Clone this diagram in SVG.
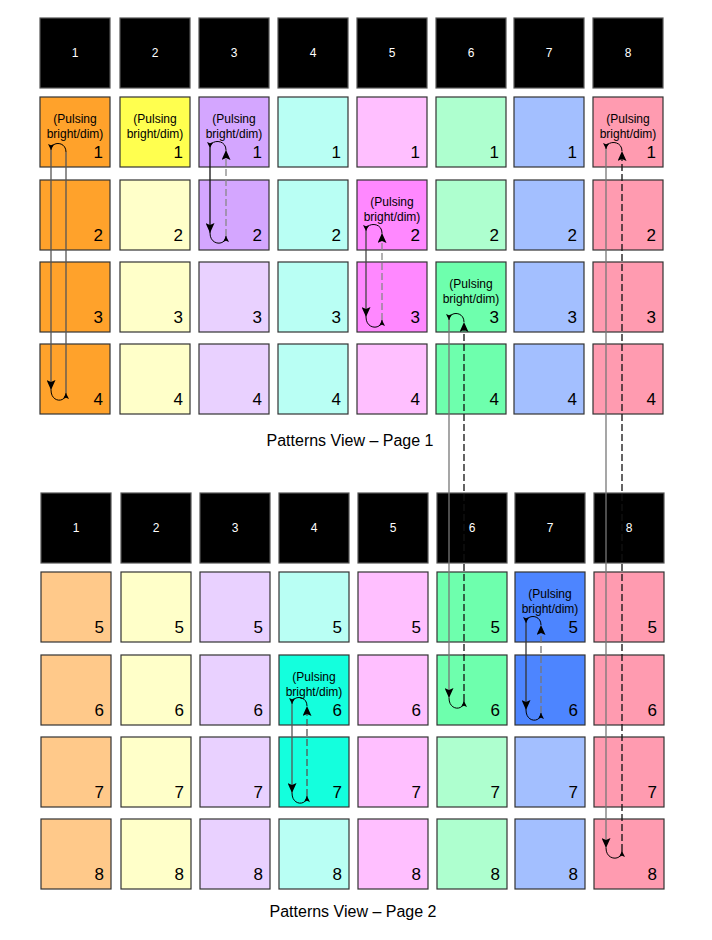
<svg xmlns="http://www.w3.org/2000/svg" width="712" height="940" viewBox="0 0 712 940">
<style>
.sq{stroke:#333;stroke-width:1.2}
.hd{fill:#000;stroke:#555;stroke-width:1.2}
.ht{font-family:"Liberation Sans",Arial,sans-serif;font-size:12px;fill:#fff;text-anchor:middle}
.n{font-family:"Liberation Sans",Arial,sans-serif;font-size:17px;fill:#000;text-anchor:end}
.p{font-family:"Liberation Sans",Arial,sans-serif;font-size:12px;fill:#000;text-anchor:middle}
.cap{font-family:"Liberation Sans",Arial,sans-serif;font-size:16px;fill:#000;text-anchor:middle}
.ln{fill:none;stroke-width:1.3}
.ds{stroke-dasharray:7,3}
.arc{fill:none;stroke:#000;stroke-width:1}
.or{fill:#FFA22B}.or2{fill:#FFC98A}
.ye{fill:#FFFF4F}.ye2{fill:#FFFFC9}
.pu{fill:#D4A6FF}.pu2{fill:#E9D1FF}
.cy{fill:#14FFDD}.cy2{fill:#B9FFF4}
.mg{fill:#FF88FF}.mg2{fill:#FFBFFF}
.gr{fill:#6EFFAD}.gr2{fill:#AEFFCF}
.bl{fill:#4D85FF}.bl2{fill:#A3BFFF}
.rd{fill:#FF9BB0}
</style>
<defs>
<marker id="big" markerUnits="userSpaceOnUse" markerWidth="10" markerHeight="9" refX="10" refY="4.5" orient="auto">
<path d="M0,0 L10,4.5 L0,9 L2,4.5 z" fill="#000"/>
</marker>
<marker id="sm" markerUnits="userSpaceOnUse" markerWidth="6" markerHeight="6" refX="6" refY="3" orient="auto">
<path d="M0,0 L6,3 L0,6 L1.2,3 z" fill="#000"/>
</marker>
</defs>
<rect width="712" height="940" fill="#fff"/>

<!-- Page 1 headers -->
<g id="p1-h1"><rect class="hd" x="40" y="18" width="70" height="70"/><text class="ht" x="75" y="57">1</text></g>
<g id="p1-h2"><rect class="hd" x="120" y="18" width="70" height="70"/><text class="ht" x="155" y="57">2</text></g>
<g id="p1-h3"><rect class="hd" x="199" y="18" width="70" height="70"/><text class="ht" x="234" y="57">3</text></g>
<g id="p1-h4"><rect class="hd" x="278" y="18" width="70" height="70"/><text class="ht" x="313" y="57">4</text></g>
<g id="p1-h5"><rect class="hd" x="357" y="18" width="70" height="70"/><text class="ht" x="392" y="57">5</text></g>
<g id="p1-h6"><rect class="hd" x="436" y="18" width="70" height="70"/><text class="ht" x="471" y="57">6</text></g>
<g id="p1-h7"><rect class="hd" x="514" y="18" width="70" height="70"/><text class="ht" x="549" y="57">7</text></g>
<g id="p1-h8"><rect class="hd" x="593" y="18" width="70" height="70"/><text class="ht" x="628" y="57">8</text></g>

<!-- Page 1 col 1 -->
<g id="p1-c1r1"><rect class="sq or" x="40" y="97" width="70" height="70"/><text class="p" x="75" y="123">(Pulsing</text><text class="p" x="75" y="138">bright/dim)</text><text class="n" x="103" y="158">1</text></g>
<g id="p1-c1r2"><rect class="sq or" x="40" y="180" width="70" height="70"/><text class="n" x="103" y="241">2</text></g>
<g id="p1-c1r3"><rect class="sq or" x="40" y="262" width="70" height="70"/><text class="n" x="103" y="323">3</text></g>
<g id="p1-c1r4"><rect class="sq or" x="40" y="344" width="70" height="70"/><text class="n" x="103" y="405">4</text></g>
<!-- col 2 -->
<g id="p1-c2r1"><rect class="sq ye" x="120" y="97" width="70" height="70"/><text class="p" x="155" y="123">(Pulsing</text><text class="p" x="155" y="138">bright/dim)</text><text class="n" x="183" y="158">1</text></g>
<g id="p1-c2r2"><rect class="sq ye2" x="120" y="180" width="70" height="70"/><text class="n" x="183" y="241">2</text></g>
<g id="p1-c2r3"><rect class="sq ye2" x="120" y="262" width="70" height="70"/><text class="n" x="183" y="323">3</text></g>
<g id="p1-c2r4"><rect class="sq ye2" x="120" y="344" width="70" height="70"/><text class="n" x="183" y="405">4</text></g>
<!-- col 3 -->
<g id="p1-c3r1"><rect class="sq pu" x="199" y="97" width="70" height="70"/><text class="p" x="234" y="123">(Pulsing</text><text class="p" x="234" y="138">bright/dim)</text><text class="n" x="262" y="158">1</text></g>
<g id="p1-c3r2"><rect class="sq pu" x="199" y="180" width="70" height="70"/><text class="n" x="262" y="241">2</text></g>
<g id="p1-c3r3"><rect class="sq pu2" x="199" y="262" width="70" height="70"/><text class="n" x="262" y="323">3</text></g>
<g id="p1-c3r4"><rect class="sq pu2" x="199" y="344" width="70" height="70"/><text class="n" x="262" y="405">4</text></g>
<!-- col 4 -->
<g id="p1-c4r1"><rect class="sq cy2" x="278" y="97" width="70" height="70"/><text class="n" x="341" y="158">1</text></g>
<g id="p1-c4r2"><rect class="sq cy2" x="278" y="180" width="70" height="70"/><text class="n" x="341" y="241">2</text></g>
<g id="p1-c4r3"><rect class="sq cy2" x="278" y="262" width="70" height="70"/><text class="n" x="341" y="323">3</text></g>
<g id="p1-c4r4"><rect class="sq cy2" x="278" y="344" width="70" height="70"/><text class="n" x="341" y="405">4</text></g>
<!-- col 5 -->
<g id="p1-c5r1"><rect class="sq mg2" x="357" y="97" width="70" height="70"/><text class="n" x="420" y="158">1</text></g>
<g id="p1-c5r2"><rect class="sq mg" x="357" y="180" width="70" height="70"/><text class="p" x="392" y="206">(Pulsing</text><text class="p" x="392" y="221">bright/dim)</text><text class="n" x="420" y="241">2</text></g>
<g id="p1-c5r3"><rect class="sq mg" x="357" y="262" width="70" height="70"/><text class="n" x="420" y="323">3</text></g>
<g id="p1-c5r4"><rect class="sq mg2" x="357" y="344" width="70" height="70"/><text class="n" x="420" y="405">4</text></g>
<!-- col 6 -->
<g id="p1-c6r1"><rect class="sq gr2" x="436" y="97" width="70" height="70"/><text class="n" x="499" y="158">1</text></g>
<g id="p1-c6r2"><rect class="sq gr2" x="436" y="180" width="70" height="70"/><text class="n" x="499" y="241">2</text></g>
<g id="p1-c6r3"><rect class="sq gr" x="436" y="262" width="70" height="70"/><text class="p" x="471" y="288">(Pulsing</text><text class="p" x="471" y="303">bright/dim)</text><text class="n" x="499" y="323">3</text></g>
<g id="p1-c6r4"><rect class="sq gr" x="436" y="344" width="70" height="70"/><text class="n" x="499" y="405">4</text></g>
<!-- col 7 -->
<g id="p1-c7r1"><rect class="sq bl2" x="514" y="97" width="70" height="70"/><text class="n" x="577" y="158">1</text></g>
<g id="p1-c7r2"><rect class="sq bl2" x="514" y="180" width="70" height="70"/><text class="n" x="577" y="241">2</text></g>
<g id="p1-c7r3"><rect class="sq bl2" x="514" y="262" width="70" height="70"/><text class="n" x="577" y="323">3</text></g>
<g id="p1-c7r4"><rect class="sq bl2" x="514" y="344" width="70" height="70"/><text class="n" x="577" y="405">4</text></g>
<!-- col 8 -->
<g id="p1-c8r1"><rect class="sq rd" x="593" y="97" width="70" height="70"/><text class="p" x="628" y="123">(Pulsing</text><text class="p" x="628" y="138">bright/dim)</text><text class="n" x="656" y="158">1</text></g>
<g id="p1-c8r2"><rect class="sq rd" x="593" y="180" width="70" height="70"/><text class="n" x="656" y="241">2</text></g>
<g id="p1-c8r3"><rect class="sq rd" x="593" y="262" width="70" height="70"/><text class="n" x="656" y="323">3</text></g>
<g id="p1-c8r4"><rect class="sq rd" x="593" y="344" width="70" height="70"/><text class="n" x="656" y="405">4</text></g>

<g id="caption1"><text class="cap" x="350" y="446">Patterns View – Page 1</text></g>

<!-- Page 2 headers -->
<g id="p2-h1"><rect class="hd" x="41" y="493" width="70" height="70"/><text class="ht" x="76" y="532">1</text></g>
<g id="p2-h2"><rect class="hd" x="121" y="493" width="70" height="70"/><text class="ht" x="156" y="532">2</text></g>
<g id="p2-h3"><rect class="hd" x="200" y="493" width="70" height="70"/><text class="ht" x="235" y="532">3</text></g>
<g id="p2-h4"><rect class="hd" x="279" y="493" width="70" height="70"/><text class="ht" x="314" y="532">4</text></g>
<g id="p2-h5"><rect class="hd" x="358" y="493" width="70" height="70"/><text class="ht" x="393" y="532">5</text></g>
<g id="p2-h6"><rect class="hd" x="437" y="493" width="70" height="70"/><text class="ht" x="472" y="532">6</text></g>
<g id="p2-h7"><rect class="hd" x="515" y="493" width="70" height="70"/><text class="ht" x="550" y="532">7</text></g>
<g id="p2-h8"><rect class="hd" x="594" y="493" width="70" height="70"/><text class="ht" x="629" y="532">8</text></g>

<!-- Page 2 col 1 -->
<g id="p2-c1r5"><rect class="sq or2" x="41" y="572" width="70" height="70"/><text class="n" x="104" y="633">5</text></g>
<g id="p2-c1r6"><rect class="sq or2" x="41" y="655" width="70" height="70"/><text class="n" x="104" y="716">6</text></g>
<g id="p2-c1r7"><rect class="sq or2" x="41" y="737" width="70" height="70"/><text class="n" x="104" y="798">7</text></g>
<g id="p2-c1r8"><rect class="sq or2" x="41" y="819" width="70" height="70"/><text class="n" x="104" y="880">8</text></g>
<!-- col 2 -->
<g id="p2-c2r5"><rect class="sq ye2" x="121" y="572" width="70" height="70"/><text class="n" x="184" y="633">5</text></g>
<g id="p2-c2r6"><rect class="sq ye2" x="121" y="655" width="70" height="70"/><text class="n" x="184" y="716">6</text></g>
<g id="p2-c2r7"><rect class="sq ye2" x="121" y="737" width="70" height="70"/><text class="n" x="184" y="798">7</text></g>
<g id="p2-c2r8"><rect class="sq ye2" x="121" y="819" width="70" height="70"/><text class="n" x="184" y="880">8</text></g>
<!-- col 3 -->
<g id="p2-c3r5"><rect class="sq pu2" x="200" y="572" width="70" height="70"/><text class="n" x="263" y="633">5</text></g>
<g id="p2-c3r6"><rect class="sq pu2" x="200" y="655" width="70" height="70"/><text class="n" x="263" y="716">6</text></g>
<g id="p2-c3r7"><rect class="sq pu2" x="200" y="737" width="70" height="70"/><text class="n" x="263" y="798">7</text></g>
<g id="p2-c3r8"><rect class="sq pu2" x="200" y="819" width="70" height="70"/><text class="n" x="263" y="880">8</text></g>
<!-- col 4 -->
<g id="p2-c4r5"><rect class="sq cy2" x="279" y="572" width="70" height="70"/><text class="n" x="342" y="633">5</text></g>
<g id="p2-c4r6"><rect class="sq cy" x="279" y="655" width="70" height="70"/><text class="p" x="314" y="681">(Pulsing</text><text class="p" x="314" y="696">bright/dim)</text><text class="n" x="342" y="716">6</text></g>
<g id="p2-c4r7"><rect class="sq cy" x="279" y="737" width="70" height="70"/><text class="n" x="342" y="798">7</text></g>
<g id="p2-c4r8"><rect class="sq cy2" x="279" y="819" width="70" height="70"/><text class="n" x="342" y="880">8</text></g>
<!-- col 5 -->
<g id="p2-c5r5"><rect class="sq mg2" x="358" y="572" width="70" height="70"/><text class="n" x="421" y="633">5</text></g>
<g id="p2-c5r6"><rect class="sq mg2" x="358" y="655" width="70" height="70"/><text class="n" x="421" y="716">6</text></g>
<g id="p2-c5r7"><rect class="sq mg2" x="358" y="737" width="70" height="70"/><text class="n" x="421" y="798">7</text></g>
<g id="p2-c5r8"><rect class="sq mg2" x="358" y="819" width="70" height="70"/><text class="n" x="421" y="880">8</text></g>
<!-- col 6 -->
<g id="p2-c6r5"><rect class="sq gr" x="437" y="572" width="70" height="70"/><text class="n" x="500" y="633">5</text></g>
<g id="p2-c6r6"><rect class="sq gr" x="437" y="655" width="70" height="70"/><text class="n" x="500" y="716">6</text></g>
<g id="p2-c6r7"><rect class="sq gr2" x="437" y="737" width="70" height="70"/><text class="n" x="500" y="798">7</text></g>
<g id="p2-c6r8"><rect class="sq gr2" x="437" y="819" width="70" height="70"/><text class="n" x="500" y="880">8</text></g>
<!-- col 7 -->
<g id="p2-c7r5"><rect class="sq bl" x="515" y="572" width="70" height="70"/><text class="p" x="550" y="598">(Pulsing</text><text class="p" x="550" y="613">bright/dim)</text><text class="n" x="578" y="633">5</text></g>
<g id="p2-c7r6"><rect class="sq bl" x="515" y="655" width="70" height="70"/><text class="n" x="578" y="716">6</text></g>
<g id="p2-c7r7"><rect class="sq bl2" x="515" y="737" width="70" height="70"/><text class="n" x="578" y="798">7</text></g>
<g id="p2-c7r8"><rect class="sq bl2" x="515" y="819" width="70" height="70"/><text class="n" x="578" y="880">8</text></g>
<!-- col 8 -->
<g id="p2-c8r5"><rect class="sq rd" x="594" y="572" width="70" height="70"/><text class="n" x="657" y="633">5</text></g>
<g id="p2-c8r6"><rect class="sq rd" x="594" y="655" width="70" height="70"/><text class="n" x="657" y="716">6</text></g>
<g id="p2-c8r7"><rect class="sq rd" x="594" y="737" width="70" height="70"/><text class="n" x="657" y="798">7</text></g>
<g id="p2-c8r8"><rect class="sq rd" x="594" y="819" width="70" height="70"/><text class="n" x="657" y="880">8</text></g>

<g id="caption2"><text class="cap" x="353" y="917">Patterns View – Page 2</text></g>

<g id="connectors">
<!-- col 1 page 1 -->
<path class="ln" stroke="#555" d="M51,150 L51,390" marker-end="url(#big)"/>
<path class="arc" d="M51,390 C51,403 66,403 66,393" marker-end="url(#sm)"/>
<path class="ln" stroke="#555" d="M66,393 L66,152"/>
<path class="arc" d="M66,152 C66,141 51,141 51,150" marker-end="url(#sm)"/>
<!-- col 3 page 1 -->
<path class="ln" stroke="#111" d="M210,148 L210,233" marker-end="url(#big)"/>
<path class="arc" d="M210,233 C210,246 226,246 226,236" marker-end="url(#sm)"/>
<path class="ln ds" stroke="#888" d="M226,236 L226,150" marker-end="url(#big)"/>
<path class="arc" d="M226,150 C226,139 210,139 210,148" marker-end="url(#sm)"/>
<!-- col 5 page 1 -->
<path class="ln" stroke="#444" d="M366,231 L366,317" marker-end="url(#big)"/>
<path class="arc" d="M366,317 C366,330 382,330 382,320" marker-end="url(#sm)"/>
<path class="ln ds" stroke="#888" d="M382,320 L382,233" marker-end="url(#big)"/>
<path class="arc" d="M382,233 C382,222 366,222 366,231" marker-end="url(#sm)"/>
<!-- col 6 page 1 to page 2 -->
<path class="ln" stroke="#777" d="M449,320 L449,698" marker-end="url(#big)"/>
<path class="arc" d="M449,698 C449,711 464,711 464,701" marker-end="url(#sm)"/>
<path class="ln ds" stroke="#111" d="M464,701 L464,322" marker-end="url(#big)"/>
<path class="arc" d="M464,322 C464,311 449,311 449,320" marker-end="url(#sm)"/>
<!-- col 8 page 1 to page 2 -->
<path class="ln" stroke="#777" d="M606,149 L606,848" marker-end="url(#big)"/>
<path class="arc" d="M606,848 C606,861 622,861 622,851" marker-end="url(#sm)"/>
<path class="ln ds" stroke="#111" d="M622,851 L622,151" marker-end="url(#big)"/>
<path class="arc" d="M622,151 C622,140 606,140 606,149" marker-end="url(#sm)"/>
<!-- col 4 page 2 -->
<path class="ln" stroke="#555" d="M292,704 L292,793" marker-end="url(#big)"/>
<path class="arc" d="M292,793 C292,806 307,806 307,796" marker-end="url(#sm)"/>
<path class="ln ds" stroke="#555" d="M307,796 L307,706" marker-end="url(#big)"/>
<path class="arc" d="M307,706 C307,695 292,695 292,704" marker-end="url(#sm)"/>
<!-- col 7 page 2 -->
<path class="ln" stroke="#333" d="M526,623 L526,710" marker-end="url(#big)"/>
<path class="arc" d="M526,710 C526,723 541,723 541,713" marker-end="url(#sm)"/>
<path class="ln ds" stroke="#777" d="M541,713 L541,625" marker-end="url(#big)"/>
<path class="arc" d="M541,625 C541,614 526,614 526,623" marker-end="url(#sm)"/>
</g>
</svg>
